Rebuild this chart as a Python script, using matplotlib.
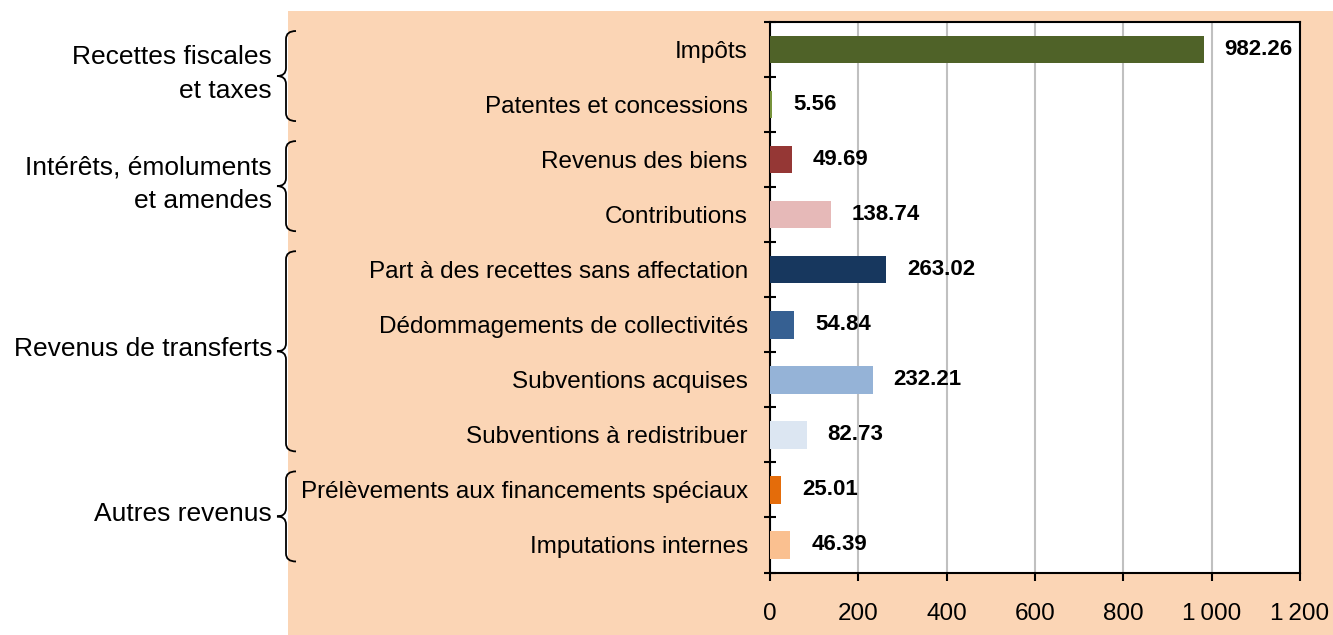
import matplotlib
matplotlib.use("Agg")
import matplotlib.pyplot as plt
from matplotlib.path import Path
from matplotlib.patches import PathPatch, Rectangle

categories = [
    "Impôts",
    "Patentes et concessions",
    "Revenus des biens",
    "Contributions",
    "Part à des recettes sans affectation",
    "Dédommagements de collectivités",
    "Subventions acquises",
    "Subventions à redistribuer",
    "Prélèvements aux financements spéciaux",
    "Imputations internes",
]
values = [982.26, 5.56, 49.69, 138.74, 263.02, 54.84, 232.21, 82.73, 25.01, 46.39]
colors = ["#4F6228", "#77933C", "#953735", "#E6B9B8", "#17375E",
          "#366092", "#95B3D7", "#DCE6F2", "#E46C0A", "#FAC090"]

group_labels = ["Recettes fiscales\net taxes", "Intérêts, émoluments\net amendes",
                "Revenus de transferts", "Autres revenus"]
group_rows = [(0, 1), (2, 3), (4, 7), (8, 9)]

x_ticks = [0, 200, 400, 600, 800, 1000, 1200]
x_ticklabels = ["0", "200", "400", "600", "800", "1\u2009000", "1\u2009200"]

plt.rcParams["font.family"] = ["Liberation Sans", "DejaVu Sans"]

W, H = 1333, 635
fig = plt.figure(figsize=(W / 100, H / 100), dpi=100)
fig.patch.set_facecolor("white")

# peach panel behind the chart
fig.patches.append(Rectangle((288 / W, 0), 1 - 288 / W, 1 - 11 / H,
                             transform=fig.transFigure, facecolor="#FBD5B5",
                             edgecolor="none", zorder=-5))

ax = fig.add_axes([770 / W, 1 - 572.5 / H, (1300 - 770) / W, (572.5 - 22) / H])
ax.set_facecolor("white")

y = list(range(len(categories)))
ax.barh(y, values, height=0.5, color=colors, zorder=3)
ax.set_ylim(len(categories) - 0.5, -0.5)
ax.set_xlim(0, 1200)

for yi, v in zip(y, values):
    ax.annotate(f"{v:.2f}", (v, yi), xytext=(15, 0), textcoords="offset points",
                ha="left", va="center", fontsize=16, fontweight="bold")

ax.set_yticks(y)
ax.set_yticklabels(categories, fontsize=17.5)
ax.tick_params(axis="y", which="major", length=0, pad=16)
ax.set_yticks([i + 0.5 for i in range(-1, len(categories))], minor=True)
ax.tick_params(axis="y", which="minor", direction="inout", length=9, width=1.5)

ax.set_xticks(x_ticks)
ax.set_xticklabels(x_ticklabels, fontsize=17.5)
ax.tick_params(axis="x", direction="out", length=6, width=1.5, pad=16)

ax.grid(axis="x", color="#C0C0C0", linewidth=1.5, zorder=0)
ax.set_axisbelow(True)
for s in ax.spines.values():
    s.set_linewidth(1.5)
    s.set_color("black")


def brace(y0, y1, ym, xs=286, xr=296, xt=277, r=8):
    # curly brace pointing left, pixel coords with y measured from the top
    pts = [(xr, y0), (xs, y0), (xs, y0 + r),
           (xs, ym - r), (xs, ym), (xt, ym),
           (xs, ym), (xs, ym + r),
           (xs, y1 - r), (xs, y1), (xr, y1)]
    codes = [Path.MOVETO, Path.CURVE3, Path.CURVE3,
             Path.LINETO, Path.CURVE3, Path.CURVE3,
             Path.CURVE3, Path.CURVE3,
             Path.LINETO, Path.CURVE3, Path.CURVE3]
    verts = [(px / W, 1 - py / H) for px, py in pts]
    fig.patches.append(PathPatch(Path(verts, codes), transform=fig.transFigure,
                                 fill=False, edgecolor="black", linewidth=1.3,
                                 zorder=5))


row_px = (572.5 - 22) / len(categories)
for label, (a, b) in zip(group_labels, group_rows):
    top = 22 + a * row_px + 9
    bot = 22 + (b + 1) * row_px - 11
    mid = (top + bot) / 2
    brace(top, bot, mid)
    fig.text(272 / W, 1 - (mid - 2) / H, label, ha="right", va="center",
             fontsize=19, linespacing=1.5)

fig.savefig("out.png", dpi=100)
